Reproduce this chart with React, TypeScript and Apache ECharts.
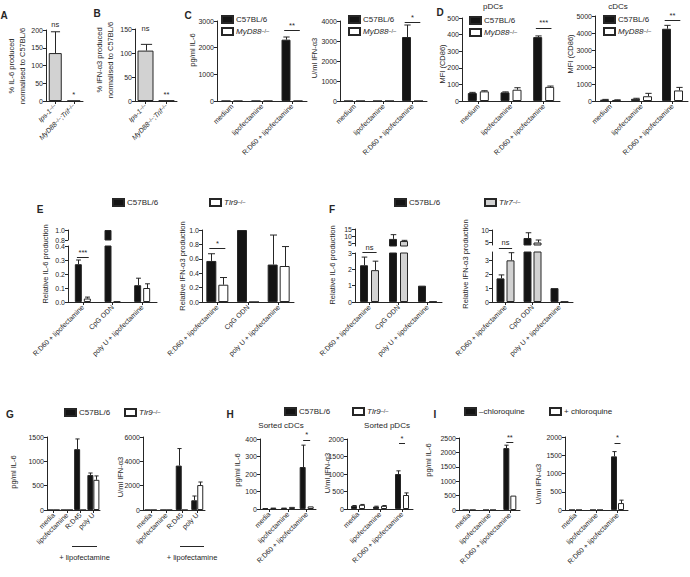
import React, { useEffect, useRef } from 'react';
import * as echarts from 'echarts';

const FONT = '"Liberation Sans", Arial, Helvetica, sans-serif';
const INK = '#262626';
const BLACK = '#141414';
const WHITE = '#ffffff';
const GREY = '#d2d2d2';

// ---------- series names ----------
const WT = 'C57BL/6';
const MYD = 'MyD88';
const TLR9 = 'Tlr9';
const TLR7 = 'Tlr7';
const MINUS = '–chloroquine';
const PLUS = '+ chloroquine';
const RATIO = 'ratio';

// ---------- data ----------
const koCategories = ['Ips-1', 'MyD88;Trif'];
const aIL6Pct = [135, 0.5];
const aIL6PctErr = [195, null];
const bIFNPct = [105, 1];
const bIFNPctErr = [118, null];

const stimCategories = ['medium', 'lipofectamine', 'R:D60 + lipofectamine'];
const cIL6Wt = [0, 0, 2300];
const cIL6WtErr = [null, null, 2400];
const cIL6Myd = [0, 0, 0];
const cIL6MydErr = [null, null, null];
const cIFNWt = [0, 0, 3200];
const cIFNWtErr = [null, null, 3800];
const cIFNMyd = [0, 0, 0];
const cIFNMydErr = [null, null, null];
const dPdcWt = [48, 52, 385];
const dPdcWtErr = [52, 55, 392];
const dPdcMyd = [58, 68, 85];
const dPdcMydErr = [62, 80, 90];
const dCdcWt = [80, 130, 4250];
const dCdcWtErr = [95, 160, 4450];
const dCdcMyd = [60, 280, 620];
const dCdcMydErr = [70, 450, 800];

const ligandCategories = ['R:D60 + lipofectamine', 'CpG ODN', 'poly U + lipofectamine'];
const eIL6Wt = [0.27, 1.0, 0.12];
const eIL6WtErr = [0.3, null, 0.17];
const eIL6Tlr9 = [0.025, 0.003, 0.1];
const eIL6Tlr9Err = [0.035, null, 0.13];
const eIFNWt = [0.57, 1.0, 0.52];
const eIFNWtErr = [0.67, null, 0.93];
const eIFNTlr9 = [0.24, 0, 0.5];
const eIFNTlr9Err = [0.34, null, 0.77];
const fIL6Wt = [2.25, 8, 1.0];
const fIL6WtErr = [2.75, 11, null];
const fIL6Tlr7 = [1.95, 6.5, 0.03];
const fIL6Tlr7Err = [2.5, 7, null];
const fIFNWt = [1.7, 6.8, 1.0];
const fIFNWtErr = [1.95, 8.9, null];
const fIFNTlr7 = [3.0, 5.0, 0.03];
const fIFNTlr7Err = [3.55, 6.0, null];

const gCategories = ['media', 'lipofectamine', 'R:D45', 'poly U'];
const gIL6Wt = [0, 0, 1250, 720];
const gIL6WtErr = [null, null, 1460, 760];
const gIL6Tlr9 = [0, 0, 0, 620];
const gIL6Tlr9Err = [null, null, null, 700];
const gIFNWt = [0, 0, 3650, 800];
const gIFNWtErr = [null, null, 5050, 1150];
const gIFNTlr9 = [0, 0, 0, 2050];
const gIFNTlr9Err = [null, null, null, 2300];

const hiCategories = ['media', 'lipofectamine', 'R:D60 + lipofectamine'];
const hIL6Wt = [5, 8, 240];
const hIL6WtErr = [null, null, 365];
const hIL6Tlr9 = [8, 12, 15];
const hIL6Tlr9Err = [null, null, null];
const hIFNWt = [90, 70, 1000];
const hIFNWtErr = [100, 80, 1090];
const hIFNTlr9 = [120, 90, 400];
const hIFNTlr9Err = [130, 100, 460];
const iIL6Minus = [0, 0, 2150];
const iIL6MinusErr = [null, null, 2250];
const iIL6Plus = [0, 0, 500];
const iIL6PlusErr = [null, null, null];
const iIFNMinus = [0, 0, 1470];
const iIFNMinusErr = [null, null, 1600];
const iIFNPlus = [0, 0, 190];
const iIFNPlusErr = [null, null, 270];

// ---------- helpers ----------
const RICH_AX = {
  i: { fontStyle: 'italic', fontSize: 7, fontFamily: FONT, color: INK },
  s: { fontSize: 5, fontFamily: FONT, color: INK, verticalAlign: 'top' },
};
const RICH_LG = {
  i: { fontStyle: 'italic', fontSize: 8, fontFamily: FONT, color: INK },
  s: { fontSize: 5.5, fontFamily: FONT, color: INK, verticalAlign: 'top' },
};
const koLabel = (v: string) =>
  v
    .split(';')
    .map((p, k) => `{i|${k > 0 ? ';' : ''}${p}}{s|–/–}`)
    .join('');
const LEGEND_TEXT: Record<string, string> = {
  [WT]: WT,
  [MYD]: '{i|MyD88}{s|–/–}',
  [TLR9]: '{i|Tlr9}{s|–/–}',
  [TLR7]: '{i|Tlr7}{s|–/–}',
  [MINUS]: MINUS,
  [PLUS]: PLUS,
};

type Group = { name: string; values: number[]; errs: (number | null)[]; fill: string };
type Seg = {
  left: number; top: number; width: number; height: number;
  min: number; max: number; interval?: number; splitNumber?: number;
  hideMin?: boolean; hideMax?: boolean; noX?: boolean; decimals?: number;
};
type Sig = { cat: number; y: number; text: string; line?: boolean; seg?: number; half?: number };
type Panel = { cats: string[]; catFmt?: (v: string) => string; groups: Group[]; bw: number; gap: number; segs: Seg[]; sigs: Sig[] };

const wt = (values: number[], errs: (number | null)[]): Group => ({ name: WT, values, errs, fill: BLACK });
const ko = (name: string, values: number[], errs: (number | null)[], fill = WHITE): Group => ({ name, values, errs, fill });

const panels: Panel[] = [
  // A
  {
    cats: koCategories, catFmt: koLabel, bw: 13, gap: 0,
    groups: [ko(RATIO, aIL6Pct, aIL6PctErr, GREY)],
    segs: [{ left: 46, top: 30, width: 37, height: 71, min: 0, max: 200, interval: 50 }],
    sigs: [{ cat: 0, y: 205, text: 'ns' }, { cat: 1, y: 8, text: '*' }],
  },
  // B
  {
    cats: koCategories, catFmt: koLabel, bw: 16, gap: 0,
    groups: [ko(RATIO, bIFNPct, bIFNPctErr, GREY)],
    segs: [{ left: 135, top: 29, width: 42, height: 72, min: 0, max: 150, interval: 50 }],
    sigs: [{ cat: 0, y: 142, text: 'ns' }, { cat: 1, y: 6, text: '**' }],
  },
  // C1
  {
    cats: stimCategories, bw: 9, gap: 3,
    groups: [wt(cIL6Wt, cIL6WtErr), ko(MYD, cIL6Myd, cIL6MydErr)],
    segs: [{ left: 217, top: 21, width: 90, height: 80, min: 0, max: 3000, interval: 1000 }],
    sigs: [{ cat: 2, y: 2650, text: '**', line: true }],
  },
  // C2
  {
    cats: stimCategories, bw: 9, gap: 3,
    groups: [wt(cIFNWt, cIFNWtErr), ko(MYD, cIFNMyd, cIFNMydErr)],
    segs: [{ left: 340, top: 21, width: 87, height: 80, min: 0, max: 4000, interval: 1000 }],
    sigs: [{ cat: 2, y: 3950, text: '*', line: true }],
  },
  // D1
  {
    cats: stimCategories, bw: 9, gap: 3,
    groups: [wt(dPdcWt, dPdcWtErr), ko(MYD, dPdcMyd, dPdcMydErr)],
    segs: [{ left: 462, top: 18, width: 98, height: 83, min: 0, max: 500, interval: 100 }],
    sigs: [{ cat: 2, y: 440, text: '***', line: true }],
  },
  // D2
  {
    cats: stimCategories, bw: 9, gap: 3,
    groups: [wt(dCdcWt, dCdcWtErr), ko(MYD, dCdcMyd, dCdcMydErr)],
    segs: [{ left: 595, top: 16, width: 93, height: 85, min: 0, max: 5000, interval: 1000 }],
    sigs: [{ cat: 2, y: 4750, text: '**', line: true }],
  },
  // E1 (broken axis)
  {
    cats: ligandCategories, bw: 7, gap: 2,
    groups: [wt(eIL6Wt, eIL6WtErr), ko(TLR9, eIL6Tlr9, eIL6Tlr9Err)],
    segs: [
      { left: 68, top: 230, width: 89, height: 10, min: 0.8, max: 1.0, interval: 0.2, noX: true, decimals: 1 },
      { left: 68, top: 246, width: 89, height: 56, min: 0, max: 0.4, interval: 0.1, decimals: 1 },
    ],
    sigs: [{ cat: 0, y: 0.32, text: '***', line: true, seg: 1 }],
  },
  // E2
  {
    cats: ligandCategories, bw: 10, gap: 2,
    groups: [wt(eIFNWt, eIFNWtErr), ko(TLR9, eIFNTlr9, eIFNTlr9Err)],
    segs: [{ left: 202, top: 230, width: 92, height: 72, min: 0, max: 1, interval: 0.2, decimals: 1 }],
    sigs: [{ cat: 0, y: 0.75, text: '*', line: true }],
  },
  // F1 (broken axis)
  {
    cats: ligandCategories, bw: 8, gap: 3,
    groups: [wt(fIL6Wt, fIL6WtErr), ko(TLR7, fIL6Tlr7, fIL6Tlr7Err, GREY)],
    segs: [
      { left: 355, top: 229, width: 87, height: 17, min: 3, max: 15, splitNumber: 2, hideMin: true, noX: true },
      { left: 355, top: 253, width: 87, height: 49, min: 0, max: 3, interval: 1 },
    ],
    sigs: [{ cat: 0, y: 3.05, text: 'ns', line: true, seg: 1 }],
  },
  // F2 (broken axis)
  {
    cats: ligandCategories, bw: 8, gap: 2,
    groups: [wt(fIFNWt, fIFNWtErr), ko(TLR7, fIFNTlr7, fIFNTlr7Err, GREY)],
    segs: [
      { left: 492, top: 230, width: 81, height: 15, min: 4, max: 10, splitNumber: 1, hideMin: true, noX: true },
      { left: 492, top: 252, width: 81, height: 50, min: 0, max: 3.6, interval: 1, hideMax: true },
    ],
    sigs: [{ cat: 0, y: 3.9, text: 'ns', line: true, seg: 1 }],
  },
  // G1
  {
    cats: gCategories, bw: 6, gap: 0,
    groups: [wt(gIL6Wt, gIL6WtErr), ko(TLR9, gIL6Tlr9, gIL6Tlr9Err)],
    segs: [{ left: 47, top: 437, width: 53, height: 73, min: 0, max: 1500, interval: 500 }],
    sigs: [],
  },
  // G2
  {
    cats: gCategories, bw: 6, gap: 0,
    groups: [wt(gIFNWt, gIFNWtErr), ko(TLR9, gIFNTlr9, gIFNTlr9Err)],
    segs: [{ left: 143, top: 437, width: 62, height: 73, min: 0, max: 6000, interval: 2000 }],
    sigs: [],
  },
  // H1
  {
    cats: hiCategories, bw: 6, gap: 2,
    groups: [wt(hIL6Wt, hIL6WtErr), ko(TLR9, hIL6Tlr9, hIL6Tlr9Err)],
    segs: [{ left: 260, top: 439, width: 56, height: 70, min: 0, max: 400, interval: 100 }],
    sigs: [{ cat: 2, y: 395, text: '*', line: true, half: 3.5 }],
  },
  // H2
  {
    cats: hiCategories, bw: 6, gap: 2,
    groups: [wt(hIFNWt, hIFNWtErr), ko(TLR9, hIFNTlr9, hIFNTlr9Err)],
    segs: [{ left: 347, top: 439, width: 66, height: 70, min: 0, max: 2000, interval: 500 }],
    sigs: [{ cat: 2, y: 1880, text: '*', line: true, half: 3 }],
  },
  // I1
  {
    cats: hiCategories, bw: 6, gap: 1,
    groups: [ko(MINUS, iIL6Minus, iIL6MinusErr, BLACK), ko(PLUS, iIL6Plus, iIL6PlusErr)],
    segs: [{ left: 459, top: 438, width: 61, height: 72, min: 0, max: 2500, interval: 500 }],
    sigs: [{ cat: 2, y: 2360, text: '**', line: true, half: 3.5 }],
  },
  // I2
  {
    cats: hiCategories, bw: 6, gap: 1,
    groups: [ko(MINUS, iIFNMinus, iIFNMinusErr, BLACK), ko(PLUS, iIFNPlus, iIFNPlusErr)],
    segs: [{ left: 565, top: 437, width: 63, height: 73, min: 0, max: 2000, interval: 500 }],
    sigs: [{ cat: 2, y: 1840, text: '*', line: true, half: 3 }],
  },
];

const legends = [
  { names: [WT, MYD], left: 221, top: 15, vertical: true },
  { names: [WT, MYD], left: 348, top: 15, vertical: true },
  { names: [WT, MYD], left: 469, top: 16, vertical: true },
  { names: [WT, MYD], left: 603, top: 15, vertical: true },
  { names: [WT], left: 112, top: 198 },
  { names: [TLR9], left: 209, top: 198 },
  { names: [WT], left: 394, top: 198 },
  { names: [TLR7], left: 484, top: 198 },
  { names: [WT], left: 64, top: 408 },
  { names: [TLR9], left: 124, top: 408 },
  { names: [WT], left: 284, top: 407 },
  { names: [TLR9], left: 352, top: 407 },
  { names: [MINUS], left: 464, top: 407 },
  { names: [PLUS], left: 549, top: 407 },
];

const letters = [
  ['A', 4, 15], ['B', 97, 13], ['C', 188, 15], ['D', 440, 12],
  ['E', 40, 209], ['F', 332, 209], ['G', 10, 414], ['H', 230, 414], ['I', 435, 414],
];
const subTitles = [
  ['pDCs', 493, 6], ['cDCs', 618, 6], ['Sorted cDCs', 281, 425], ['Sorted pDCs', 387, 425],
];
const yTitles = [
  ['% IL-6 produced\nnormalised to C57BL/6', 17, 66],
  ['% IFN-α3 produced\nnormalised to C57BL/6', 105, 60],
  ['pg/ml IL-6', 192, 50],
  ['U/ml IFN-α3', 314, 58],
  ['MFI (CD86)', 442, 64],
  ['MFI (CD86)', 570, 54],
  ['Relative IL-6 production', 45, 264],
  ['Relative IFN-α3 production', 182, 266],
  ['Relative IL-6 production', 332, 265],
  ['Relative IFN-α3 production', 465, 264],
  ['pg/ml IL-6', 13, 472],
  ['U/ml IFN-α3', 120, 477],
  ['pg/ml IL-6', 237, 470],
  ['U/ml IFN-α3', 327, 473],
  ['pg/ml IL-6', 428, 460],
  ['U/ml IFN-α3', 538, 484],
];

function txt(text: string, x: number, y: number, size: number, extra: any = {}) {
  const { bold, ...rest } = extra;
  return {
    type: 'text',
    x,
    y,
    ...rest,
    style: {
      text,
      fill: INK,
      fontSize: size,
      fontFamily: FONT,
      fontWeight: bold ? 'bold' : 'normal',
      align: 'center',
      verticalAlign: 'middle',
      textAlign: 'center',
      textVerticalAlign: 'middle',
      lineHeight: size + 3,
    },
  };
}

function makeErr(bw: number, gap: number, lo: number, hi: number) {
  const cap = Math.max(2, bw * 0.35);
  return (_params: any, api: any) => {
    const c = api.value(0);
    const v = api.value(1);
    const e = api.value(2);
    const k = api.value(3);
    if (e <= lo || v >= hi) return { type: 'group', children: [] };
    const p0 = api.coord([c, Math.max(v, lo)]);
    const p1 = api.coord([c, Math.min(e, hi)]);
    const x = Math.round(p0[0] + k * (bw + gap)) + 0.5;
    const style = { stroke: INK, lineWidth: 1 };
    const children: any[] = [{ type: 'line', shape: { x1: x, y1: p0[1], x2: x, y2: p1[1] }, style }];
    if (e <= hi) children.push({ type: 'line', shape: { x1: x - cap, y1: p1[1], x2: x + cap, y2: p1[1] }, style });
    return { type: 'group', children };
  };
}

function makeSig(list: Sig[], defHalf: number) {
  return (params: any, api: any) => {
    const s = list[params.dataIndex];
    const p = api.coord([api.value(0), api.value(1)]);
    const h = s.half ?? defHalf;
    const children: any[] = [];
    if (s.line) {
      const y = Math.round(p[1]) + 0.5;
      children.push({ type: 'line', shape: { x1: p[0] - h, y1: y, x2: p[0] + h, y2: y }, style: { stroke: INK, lineWidth: 1 } });
    }
    children.push({
      type: 'text',
      x: p[0],
      y: p[1] - (s.line ? 1 : 0),
      style: {
        text: s.text, fill: INK, fontSize: 7.5, fontFamily: FONT,
        align: 'center', verticalAlign: 'bottom', textAlign: 'center', textVerticalAlign: 'bottom',
      },
    });
    return { type: 'group', children };
  };
}

function buildOption() {
  const grid: any[] = [];
  const xAxis: any[] = [];
  const yAxis: any[] = [];
  const series: any[] = [];

  panels.forEach((p) => {
    const n = p.groups.length;
    p.segs.forEach((s, si) => {
      const gi = grid.length;
      grid.push({ left: s.left, top: s.top, width: s.width, height: s.height });
      xAxis.push({
        gridIndex: gi,
        type: 'category',
        data: p.cats,
        show: !s.noX,
        axisLine: { show: true, lineStyle: { color: INK, width: 1 } },
        axisTick: { show: true, alignWithLabel: true, length: 3, lineStyle: { color: INK } },
        axisLabel: {
          interval: 0, rotate: 45, fontSize: 7, color: INK, fontFamily: FONT, margin: 4,
          formatter: p.catFmt ? (v: string) => p.catFmt!(v) : (v: string) => v,
          rich: RICH_AX,
        },
        splitLine: { show: false },
      });
      yAxis.push({
        gridIndex: gi,
        type: 'value',
        min: s.min,
        max: s.max,
        interval: s.interval,
        splitNumber: s.splitNumber,
        axisLine: { show: true, lineStyle: { color: INK, width: 1 } },
        axisTick: { show: true, length: 3, lineStyle: { color: INK } },
        axisLabel: {
          fontSize: 7, color: INK, fontFamily: FONT, margin: 3,
          showMinLabel: s.hideMin ? false : true,
          showMaxLabel: s.hideMax ? false : true,
          formatter: (v: number) => (s.decimals ? v.toFixed(s.decimals) : String(Math.round(v * 1000) / 1000)),
        },
        splitLine: { show: false },
      });
      p.groups.forEach((g) => {
        series.push({
          type: 'bar',
          name: g.name,
          xAxisIndex: gi,
          yAxisIndex: gi,
          data: g.values,
          barWidth: p.bw,
          barGap: `${(p.gap / p.bw) * 100}%`,
          clip: true,
          silent: true,
          z: 2,
          itemStyle: { color: g.fill, borderColor: INK, borderWidth: 1 },
        });
      });
      const errData: number[][] = [];
      p.groups.forEach((g, k) =>
        g.values.forEach((v, c) => {
          const e = g.errs[c];
          if (e != null) errData.push([c, v, e, k - (n - 1) / 2]);
        })
      );
      if (errData.length) {
        series.push({
          type: 'custom', xAxisIndex: gi, yAxisIndex: gi, data: errData, clip: false, silent: true, z: 3,
          renderItem: makeErr(p.bw, p.gap, s.min, s.max),
        });
      }
      const sg = p.sigs.filter((x) => (x.seg ?? 0) === si);
      if (sg.length) {
        series.push({
          type: 'custom', xAxisIndex: gi, yAxisIndex: gi, data: sg.map((x) => [x.cat, x.y]), clip: false, silent: true, z: 4,
          renderItem: makeSig(sg, p.bw * 0.7 + p.gap / 2),
        });
      }
    });
  });

  const legend = legends.map((l) => ({
    data: l.names,
    left: l.left,
    top: l.top,
    orient: l.vertical ? 'vertical' : 'horizontal',
    itemGap: 3,
    itemWidth: 11,
    itemHeight: 7,
    padding: 0,
    icon: 'rect',
    selectedMode: false,
    formatter: (name: string) => LEGEND_TEXT[name] ?? name,
    textStyle: { fontSize: 8, color: INK, fontFamily: FONT, rich: RICH_LG, padding: [0, 0, 0, -2] },
  }));

  const graphic: any[] = [];
  letters.forEach(([t, x, y]) => graphic.push(txt(t as string, x as number, y as number, 10, { bold: true })));
  subTitles.forEach(([t, x, y]) => graphic.push(txt(t as string, x as number, y as number, 8)));
  yTitles.forEach(([t, x, y]) => graphic.push(txt(t as string, x as number, y as number, 7.5, { rotation: Math.PI / 2 })));
  // "+ lipofectamine" brackets under panel G
  [[72, 97], [180, 204]].forEach(([a, b]) => {
    graphic.push({ type: 'line', shape: { x1: a, y1: 546.5, x2: b, y2: 546.5 }, style: { stroke: INK, lineWidth: 1 } });
    graphic.push(txt('+ lipofectamine', (a + b) / 2, 557, 7.5));
  });

  return {
    animation: false,
    backgroundColor: '#ffffff',
    textStyle: { fontFamily: FONT },
    grid,
    xAxis,
    yAxis,
    series,
    legend,
    graphic,
  };
}

export default function App() {
  const ref = useRef<HTMLDivElement>(null);
  useEffect(() => {
    document.body.style.margin = '0';
    const chart = echarts.init(ref.current!, null, { renderer: 'svg' });
    chart.setOption(buildOption() as any);
    return () => chart.dispose();
  }, []);
  return <div ref={ref} style={{ width: 690, height: 577 }} />;
}
